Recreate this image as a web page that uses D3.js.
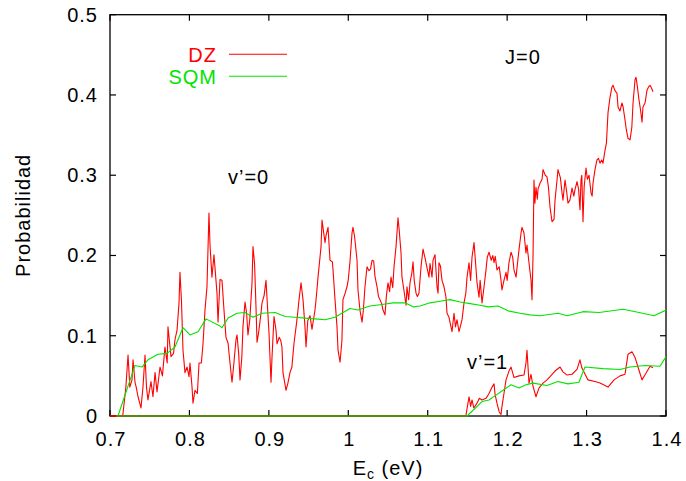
<!DOCTYPE html>
<html>
<head>
<meta charset="utf-8">
<script src="https://cdn.jsdelivr.net/npm/d3@7"></script>
<style>
  html, body { margin: 0; padding: 0; background: #fff; }
  svg { display: block; }
  text { font-family: "Liberation Sans", Arial, Helvetica, sans-serif; font-size: 20px; letter-spacing: 1px; }
</style>
</head>
<body>
<svg id="chart" width="686" height="481"></svg>
<script>
// Axis ticks
const xTicks = [0.7, 0.8, 0.9, 1.0, 1.1, 1.2, 1.3, 1.4];
const yTicks = [0, 0.1, 0.2, 0.3, 0.4, 0.5];
const xTickLabels = ["0.7", "0.8", "0.9", "1", "1.1", "1.2", "1.3", "1.4"];
const yTickLabels = ["0", "0.1", "0.2", "0.3", "0.4", "0.5"];

// Series names
const seriesNames = ["DZ", "SQM"];

// DZ, v'=0 : [E_c (eV), probability]
const dzV0 = [
  [0.700,0],[0.712,0],[0.716,0],[0.720,0.036],[0.7227,0.076],[0.725,0.036],[0.7277,0.045],[0.729,0.070],
  [0.7315,0.042],[0.733,0.036],[0.7353,0.024],[0.739,0.010],[0.7415,0.036],[0.7441,0.076],[0.746,0.035],
  [0.7478,0.020],[0.7516,0.043],[0.7541,0.024],[0.7567,0.054],[0.7592,0.030],[0.763,0.061],[0.766,0.050],
  [0.7692,0.086],[0.772,0.066],[0.773,0.111],[0.7768,0.074],[0.780,0.078],[0.7818,0.095],[0.7844,0.107],
  [0.7869,0.141],[0.7881,0.179],[0.790,0.143],[0.7919,0.082],[0.7944,0.054],[0.797,0.061],[0.7995,0.049],
  [0.8007,0.066],[0.8032,0.037],[0.8045,0.016],[0.807,0.032],[0.810,0.028],[0.8121,0.066],[0.815,0.066],
  [0.8171,0.090],[0.8196,0.132],[0.8221,0.161],[0.8246,0.253],[0.826,0.211],[0.8284,0.173],[0.8309,0.201],
  [0.8347,0.153],[0.836,0.117],[0.8385,0.170],[0.841,0.169],[0.8435,0.132],[0.846,0.098],[0.8486,0.091],
  [0.8511,0.066],[0.8536,0.042],[0.856,0.066],[0.8586,0.095],[0.8599,0.101],[0.862,0.078],[0.8637,0.045],
  [0.866,0.074],[0.8674,0.111],[0.870,0.142],[0.872,0.128],[0.8737,0.101],[0.876,0.120],[0.8788,0.166],
  [0.880,0.211],[0.882,0.190],[0.8838,0.136],[0.8851,0.092],[0.887,0.103],[0.8901,0.128],[0.8914,0.141],
  [0.894,0.150],[0.8964,0.169],[0.898,0.141],[0.9002,0.103],[0.9027,0.042],[0.904,0.074],[0.9065,0.124],
  [0.909,0.107],[0.9103,0.090],[0.913,0.098],[0.915,0.094],[0.9165,0.086],[0.9178,0.054],[0.9216,0.032],
  [0.924,0.041],[0.9266,0.054],[0.929,0.061],[0.9317,0.091],[0.9354,0.120],[0.938,0.145],[0.9405,0.166],
  [0.943,0.145],[0.9455,0.111],[0.9468,0.086],[0.949,0.119],[0.9518,0.125],[0.9543,0.108],[0.956,0.119],
  [0.9581,0.132],[0.960,0.151],[0.9619,0.173],[0.9657,0.211],[0.9669,0.244],[0.9707,0.216],[0.972,0.225],
  [0.9745,0.235],[0.977,0.194],[0.980,0.192],[0.9808,0.182],[0.9833,0.145],[0.9858,0.111],[0.9871,0.082],
  [0.9896,0.067],[0.992,0.094],[0.9933,0.145],[0.996,0.153],[0.9984,0.161],[1.000,0.170],[1.0021,0.192],
  [1.0047,0.228],[1.0059,0.235],[1.008,0.223],[1.011,0.194],[1.0122,0.157],[1.0147,0.132],[1.0173,0.117],
  [1.019,0.132],[1.021,0.161],[1.0236,0.186],[1.026,0.181],[1.028,0.183],[1.0299,0.194],[1.032,0.193],
  [1.0336,0.174],[1.0362,0.161],[1.038,0.149],[1.0399,0.145],[1.042,0.140],[1.0437,0.132],[1.0462,0.126],
  [1.048,0.150],[1.050,0.166],[1.052,0.155],[1.0538,0.173],[1.056,0.160],[1.0576,0.186],[1.0601,0.211],
  [1.0626,0.247],[1.064,0.233],[1.0664,0.203],[1.0676,0.173],[1.070,0.157],[1.0727,0.138],[1.0739,0.161],
  [1.076,0.145],[1.0777,0.166],[1.080,0.178],[1.0815,0.192],[1.083,0.169],[1.0853,0.153],[1.087,0.149],
  [1.089,0.153],[1.0916,0.186],[1.0941,0.208],[1.097,0.195],[1.0991,0.185],[1.1016,0.173],[1.1029,0.190],
  [1.1054,0.173],[1.1067,0.194],[1.1092,0.201],[1.1117,0.161],[1.113,0.153],[1.1142,0.191],[1.116,0.187],
  [1.118,0.169],[1.1205,0.161],[1.123,0.148],[1.1243,0.128],[1.1268,0.123],[1.1293,0.111],[1.1306,0.105],
  [1.1331,0.128],[1.135,0.111],[1.1369,0.120],[1.1394,0.105],[1.141,0.111],[1.1432,0.120],[1.1457,0.141],
  [1.148,0.153],[1.1495,0.173],[1.152,0.191],[1.154,0.169],[1.1558,0.198],[1.1583,0.216],[1.160,0.194],
  [1.1621,0.166],[1.1646,0.148],[1.166,0.169],[1.1684,0.141],[1.171,0.162],[1.1734,0.182],[1.175,0.198],
  [1.1772,0.204],[1.180,0.194],[1.182,0.200],[1.1835,0.191],[1.185,0.199],[1.1872,0.182],[1.190,0.186],
  [1.1923,0.169],[1.1935,0.157],[1.196,0.169],[1.1986,0.179],[1.200,0.169],[1.2023,0.191],[1.2049,0.204],
  [1.207,0.198],[1.2086,0.182],[1.2112,0.173],[1.213,0.190],[1.2149,0.207],[1.2175,0.228],[1.2187,0.235],
  [1.2212,0.228],[1.2237,0.203],[1.225,0.213],[1.2275,0.191],[1.2301,0.169],[1.2313,0.145],[1.2326,0.200],
  [1.2338,0.294],[1.235,0.265],[1.2363,0.285],[1.238,0.270],[1.2389,0.283],[1.2414,0.290],[1.2439,0.295],
  [1.2452,0.307],[1.248,0.300],[1.2502,0.298],[1.252,0.285],[1.254,0.260],[1.2565,0.242],[1.259,0.245],
  [1.2603,0.269],[1.2628,0.294],[1.264,0.307],[1.267,0.297],[1.2691,0.278],[1.2703,0.269],[1.2729,0.294],
  [1.275,0.279],[1.2766,0.265],[1.279,0.269],[1.2817,0.284],[1.284,0.274],[1.2854,0.282],[1.288,0.292],
  [1.290,0.282],[1.2917,0.257],[1.293,0.294],[1.294,0.300],[1.2955,0.242],[1.297,0.286],[1.2993,0.309],
  [1.301,0.295],[1.3031,0.300],[1.3056,0.278],[1.307,0.274],[1.3081,0.290],[1.3106,0.307],[1.3131,0.319],
  [1.315,0.321],[1.3169,0.315],[1.319,0.319],[1.3207,0.315],[1.3232,0.331],[1.325,0.340],[1.327,0.378],
  [1.3295,0.397],[1.332,0.410],[1.3333,0.412],[1.336,0.405],[1.3383,0.402],[1.3396,0.385],[1.342,0.380],
  [1.3446,0.390],[1.346,0.385],[1.3484,0.369],[1.350,0.357],[1.3522,0.346],[1.3547,0.344],[1.357,0.360],
  [1.3585,0.390],[1.3610,0.419],[1.3623,0.422],[1.364,0.410],[1.366,0.394],[1.368,0.381],[1.3698,0.366],
  [1.371,0.385],[1.3736,0.390],[1.3761,0.406],[1.378,0.410],[1.3799,0.412],[1.382,0.408],[1.3836,0.404]
];

// SQM, v'=0
const sqmV0 = [
  [0.710,0],[0.7315,0.063],[0.7403,0.061],[0.7478,0.070],[0.7605,0.077],[0.7718,0.078],[0.7818,0.086],
  [0.7919,0.110],[0.8007,0.101],[0.8108,0.105],[0.8209,0.121],[0.8385,0.112],[0.8410,0.110],[0.8486,0.122],
  [0.8599,0.128],[0.8700,0.129],[0.8800,0.123],[0.8914,0.128],[0.9078,0.129],[0.9204,0.124],[0.9329,0.123],
  [0.9455,0.122],[0.9581,0.121],[0.9707,0.120],[0.9833,0.123],[1.0021,0.134],[1.0122,0.132],[1.0273,0.137],
  [1.0424,0.139],[1.0563,0.141],[1.0714,0.141],[1.0815,0.136],[1.0903,0.137],[1.1029,0.141],[1.1155,0.143],
  [1.1281,0.145],[1.1407,0.142],[1.1533,0.140],[1.1659,0.138],[1.1760,0.136],[1.1885,0.137],[1.2011,0.131],
  [1.2162,0.128],[1.2288,0.126],[1.2414,0.125],[1.2641,0.128],[1.2754,0.125],[1.2956,0.130],[1.3157,0.129],
  [1.3460,0.133],[1.3661,0.129],[1.3850,0.125],[1.4000,0.132]
];

// DZ, v'=1
const dzV1 = [
  [0.700,0],[1.148,0],[1.150,0.012],[1.1520,0.024],[1.154,0.012],[1.1558,0.020],[1.158,0.010],[1.1621,0.016],
  [1.165,0.022],[1.1684,0.020],[1.1734,0.022],[1.1772,0.028],[1.1810,0.036],[1.1835,0.040],[1.1848,0.027],
  [1.1872,0.016],[1.1900,0.005],[1.1923,0.002],[1.1935,0.012],[1.1960,0.028],[1.1986,0.045],[1.2023,0.056],
  [1.2049,0.061],[1.2086,0.048],[1.2149,0.050],[1.2212,0.051],[1.2237,0.066],[1.2250,0.082],[1.2275,0.041],
  [1.2300,0.052],[1.2326,0.037],[1.2363,0.024],[1.2402,0.035],[1.2452,0.041],[1.2502,0.045],[1.2540,0.049],
  [1.2603,0.056],[1.2666,0.061],[1.2703,0.055],[1.2754,0.051],[1.2817,0.052],[1.2880,0.058],[1.2917,0.070],
  [1.2940,0.060],[1.3018,0.045],[1.3106,0.043],[1.3169,0.041],[1.3270,0.036],[1.3346,0.045],[1.3421,0.050],
  [1.3484,0.052],[1.3522,0.077],[1.3572,0.080],[1.3610,0.073],[1.3660,0.057],[1.3698,0.045],[1.3740,0.052],
  [1.3799,0.062],[1.3836,0.060]
];

// SQM, v'=1
const sqmV1 = [
  [0.708,0],[1.1495,0],[1.1684,0.018],[1.1772,0.020],[1.1860,0.026],[1.1948,0.032],[1.2049,0.039],
  [1.2149,0.035],[1.2237,0.039],[1.2326,0.041],[1.2502,0.038],[1.2640,0.043],[1.2766,0.040],[1.2904,0.042],
  [1.2980,0.061],[1.3207,0.059],[1.3421,0.058],[1.3547,0.061],[1.3736,0.063],[1.3925,0.062],[1.4000,0.074]
];

const RED = "#ff0000";
const GREEN = "#00e400";

const svg = d3.select("#chart");
const margin = { left: 110, right: 20, top: 14.7, bottom: 65 };
const W = 686, H = 481;

const x = d3.scaleLinear().domain([0.7, 1.4]).range([margin.left, W - margin.right]);
const y = d3.scaleLinear().domain([0, 0.5]).range([H - margin.bottom, margin.top]);

const x0 = x.range()[0], x1 = x.range()[1];
const y0 = y.range()[0], y1 = y.range()[1];

// Frame
svg.append("rect")
  .attr("x", x0).attr("y", y1)
  .attr("width", x1 - x0).attr("height", y0 - y1)
  .attr("fill", "none").attr("stroke", "#000").attr("stroke-width", 1.3);

// Inward ticks, mirrored on top and right
const tickLen = 6;
const axisG = svg.append("g").attr("stroke", "#000").attr("stroke-width", 1.2);
xTicks.forEach(v => {
  axisG.append("line").attr("x1", x(v)).attr("x2", x(v)).attr("y1", y0).attr("y2", y0 - tickLen);
  axisG.append("line").attr("x1", x(v)).attr("x2", x(v)).attr("y1", y1).attr("y2", y1 + tickLen);
});
yTicks.forEach(v => {
  axisG.append("line").attr("x1", x0).attr("x2", x0 + tickLen).attr("y1", y(v)).attr("y2", y(v));
  axisG.append("line").attr("x1", x1).attr("x2", x1 - tickLen).attr("y1", y(v)).attr("y2", y(v));
});

// Tick labels
svg.append("g").selectAll("text").data(xTicks).join("text")
  .attr("x", d => x(d) + 1).attr("y", y0 + 30)
  .attr("text-anchor", "middle").attr("fill", "#000")
  .text((d, i) => xTickLabels[i]);

svg.append("g").selectAll("text").data(yTicks).join("text")
  .attr("x", x0 - 12).attr("y", d => y(d) + 7)
  .attr("text-anchor", "end").attr("fill", "#000")
  .text((d, i) => yTickLabels[i]);

// Axis titles
const xt = svg.append("text")
  .attr("x", (x0 + x1) / 2).attr("y", 475)
  .attr("text-anchor", "middle").attr("fill", "#000");
xt.append("tspan").text("E");
xt.append("tspan").attr("font-size", 14).attr("dy", 4).text("c");
xt.append("tspan").attr("dy", -4).text(" (eV)");

svg.append("text")
  .attr("transform", `translate(30,${(y0 + y1) / 2}) rotate(-90)`)
  .attr("text-anchor", "middle").attr("fill", "#000")
  .text("Probabilidad");

// Curves
svg.append("clipPath").attr("id", "plotClip")
  .append("rect").attr("x", x0).attr("y", y1 - 1)
  .attr("width", x1 - x0).attr("height", y0 - y1 + 2);

const line = d3.line().x(d => x(d[0])).y(d => y(d[1]));
const curves = svg.append("g").attr("clip-path", "url(#plotClip)").attr("fill", "none");

[[dzV0, RED], [sqmV0, GREEN], [dzV1, RED], [sqmV1, GREEN]].forEach(([data, color]) => {
  curves.append("path").datum(data)
    .attr("d", line)
    .attr("stroke", color)
    .attr("stroke-width", 1.1)
    .attr("stroke-linejoin", "round");
});

// Legend
const legend = svg.append("g");
[RED, GREEN].forEach((c, i) => {
  const ly = 54.3 + i * 22;
  legend.append("text")
    .attr("x", 217).attr("y", ly + 7.5)
    .attr("text-anchor", "end").attr("fill", c)
    .text(seriesNames[i]);
  legend.append("line")
    .attr("x1", 229).attr("x2", 287).attr("y1", ly).attr("y2", ly)
    .attr("stroke", c).attr("stroke-width", 1.1);
});

// Annotations
svg.append("text").attr("x", 505).attr("y", 64)
  .attr("fill", "#000").text("J=0");
svg.append("text").attr("x", 228).attr("y", 184)
  .attr("fill", "#000").text("v’=0");
svg.append("text").attr("x", 467).attr("y", 369)
  .attr("fill", "#000").text("v’=1");
</script>
</body>
</html>
